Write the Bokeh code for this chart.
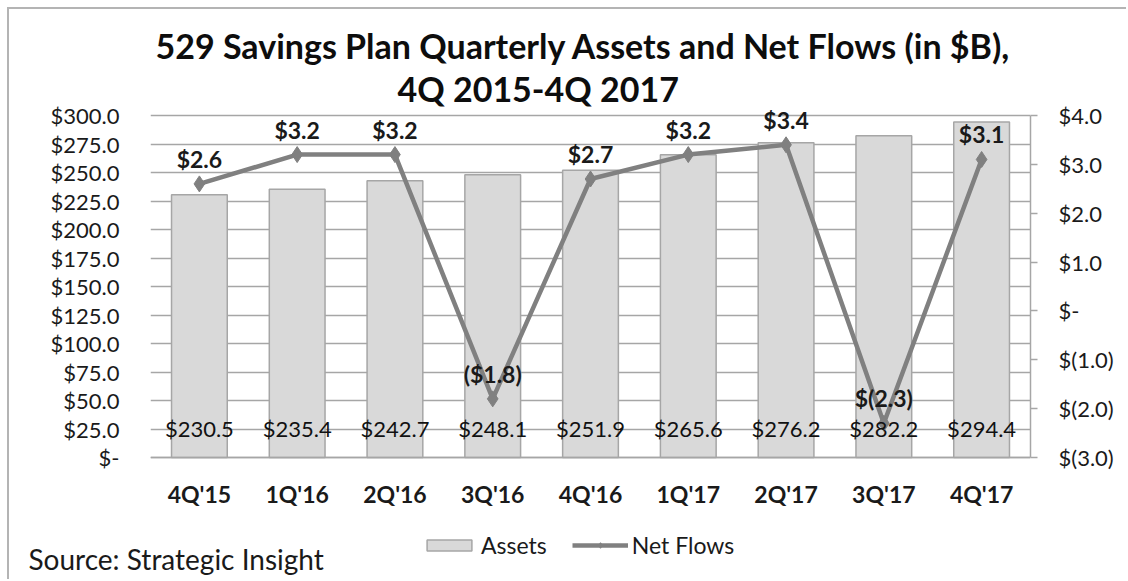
from bokeh.plotting import figure
from bokeh.models import (FactorRange, Range1d, LinearAxis, FixedTicker, Title,
                          Legend, LegendItem, ColumnDataSource)
from bokeh.embed import file_html
from bokeh.resources import INLINE
from bokeh.core.properties import value

# ---- data ----
quarters = ["4Q'15", "1Q'16", "2Q'16", "3Q'16", "4Q'16", "1Q'17", "2Q'17", "3Q'17", "4Q'17"]
assets = [230.5, 235.4, 242.7, 248.1, 251.9, 265.6, 276.2, 282.2, 294.4]
net_flows = [2.6, 3.2, 3.2, -1.8, 2.7, 3.2, 3.4, -2.3, 3.1]
asset_labels = ["$230.5", "$235.4", "$242.7", "$248.1", "$251.9", "$265.6", "$276.2", "$282.2", "$294.4"]
flow_labels = ["$2.6", "$3.2", "$3.2", "($1.8)", "$2.7", "$3.2", "$3.4", "$(2.3)", "$3.1"]
left_ticks = [0, 25, 50, 75, 100, 125, 150, 175, 200, 225, 250, 275, 300]
left_tick_labels = ["$-", "$25.0", "$50.0", "$75.0", "$100.0", "$125.0", "$150.0", "$175.0",
                    "$200.0", "$225.0", "$250.0", "$275.0", "$300.0"]
right_ticks = [-3, -2, -1, 0, 1, 2, 3, 4]
right_tick_labels = ["$(3.0)", "$(2.0)", "$(1.0)", "$-", "$1.0", "$2.0", "$3.0", "$4.0"]
title_line1 = "529 Savings Plan Quarterly Assets and Net Flows (in $B),"
title_line2 = "4Q 2015-4Q 2017"
source_text = "Source: Strategic Insight"

FONT = "Lato"
TXT = "#1a1a1a"
GRID = "#a6a6a6"

# ---- layout geometry (page pixels) ----
CANVAS_X0, CANVAS_Y0 = 9, 9
W, H = 1128 - CANVAS_X0, 581 - CANVAS_Y0
FRAME_L, FRAME_R = 150, 1030
FRAME_T, FRAME_B = 108, 559
AX_TOP, AX_ZERO = 115, 457          # where the value axes start / end
left_lo, left_hi = 0.0, 300.0
right_lo, right_hi = -3.0, 4.0
lpx = (AX_ZERO - AX_TOP) / (left_hi - left_lo)
rpx = (AX_ZERO - AX_TOP) / (right_hi - right_lo)
left_range = (left_lo - (FRAME_B - AX_ZERO) / lpx, left_hi + (AX_TOP - FRAME_T) / lpx)
right_range = (right_lo - (FRAME_B - AX_ZERO) / rpx, right_hi + (AX_TOP - FRAME_T) / rpx)

src = ColumnDataSource(dict(q=quarters, assets=assets, flows=net_flows,
                            alab=asset_labels, flab=flow_labels,
                            base=[0 for _ in assets]))

p = figure(width=W, height=H, x_range=FactorRange(*quarters, range_padding=0),
           y_range=Range1d(*left_range), output_backend="svg", toolbar_location=None,
           min_border_left=FRAME_L - CANVAS_X0, min_border_right=CANVAS_X0 + W - FRAME_R,
           min_border_top=FRAME_T - CANVAS_Y0, min_border_bottom=CANVAS_Y0 + H - FRAME_B)
p.styles = {"margin-top": "7px", "margin-left": "7px",
            "border-top": "2px solid #b4b4b4", "border-left": "2px solid #b4b4b4"}
p.outline_line_color = None
p.background_fill_color = "white"
p.border_fill_color = "white"
p.extra_y_ranges = {"flows": Range1d(*right_range)}

# grid
p.xgrid.grid_line_color = None
p.ygrid.ticker = FixedTicker(ticks=left_ticks)
p.ygrid.grid_line_color = GRID
p.ygrid.grid_line_width = 1.5

# left axis
la = p.yaxis[0]
la.ticker = FixedTicker(ticks=left_ticks)
la.bounds = (left_lo, left_hi)
la.major_label_overrides = {t: l for t, l in zip(left_ticks, left_tick_labels)}
la.axis_line_color = None
la.major_tick_line_color = None
la.minor_tick_line_color = None
la.major_tick_out = 0
la.major_label_standoff = 31
la.major_label_text_font = FONT
la.major_label_text_font_size = "22px"
la.major_label_text_color = TXT

# bottom (category) axis sits on the zero line of the assets axis
xa = p.xaxis[0]
xa.fixed_location = 0
xa.axis_line_color = GRID
xa.axis_line_width = 1.5
xa.major_tick_line_color = None
xa.major_tick_out = 0
xa.major_label_standoff = 22
xa.major_label_text_font = FONT
xa.major_label_text_font_style = "bold"
xa.major_label_text_font_size = "23px"
xa.major_label_text_color = TXT

# right axis
ra = LinearAxis(y_range_name="flows", ticker=FixedTicker(ticks=right_ticks),
                bounds=(right_lo, right_hi))
ra.major_label_overrides = {t: l for t, l in zip(right_ticks, right_tick_labels)}
ra.axis_line_color = GRID
ra.axis_line_width = 1.5
ra.major_tick_line_color = GRID
ra.major_tick_line_width = 1.5
ra.major_tick_in = 0
ra.major_tick_out = 7
ra.minor_tick_line_color = None
ra.major_label_standoff = 21
ra.major_label_text_font = FONT
ra.major_label_text_font_size = "22px"
ra.major_label_text_color = TXT
p.add_layout(ra, "right")

# bars
bars = p.vbar(x="q", top="assets", width=0.57, source=src,
              fill_color="#d9d9d9", line_color=GRID, line_width=1.5)

# line
ln = p.line(x="q", y="flows", source=src, y_range_name="flows",
            line_color="#808080", line_width=4.5)
mk = p.scatter(x="q", y="flows", source=src, y_range_name="flows", marker="diamond",
               size=16, fill_color="#808080", line_color="#808080")

# data labels
p.text(x="q", y="base", text="alab", source=src, text_align="center", text_baseline="middle",
       y_offset=-29, text_font=value(FONT), text_font_size="22px", text_color="#111111")
p.text(x="q", y="flows", text="flab", source=src, y_range_name="flows",
       text_align="center", text_baseline="middle", y_offset=-25,
       text_font=value(FONT), text_font_size="23px", text_font_style="bold", text_color=TXT)

# titles (first added sits closest to the frame)
p.add_layout(Title(text=title_line2, align="left", offset=397 - FRAME_L, standoff=0,
                   text_font=FONT, text_font_size="34px", text_font_style="bold",
                   text_color="#0d0d0d"), "above")
p.add_layout(Title(text=title_line1, align="left", offset=155 - FRAME_L, standoff=0,
                   text_font=FONT, text_font_size="34px", text_font_style="bold",
                   text_color="#0d0d0d"), "above")

legend = Legend(items=[LegendItem(label="Assets", renderers=[bars]),
                       LegendItem(label="Net Flows", renderers=[ln, mk])],
                location=(421 - FRAME_L, 0), orientation="horizontal",
                glyph_width=56, glyph_height=14, label_standoff=4, spacing=25,
                padding=0, margin=0, border_line_color=None, background_fill_alpha=0,
                label_text_font=FONT, label_text_font_size="23px", label_text_color=TXT)
p.add_layout(legend, "center")

p.add_layout(Title(text=source_text, align="left", vertical_align="top",
                   offset=28 - FRAME_L, standoff=-36,
                   text_font=FONT, text_font_size="28px", text_font_style="normal",
                   text_color=TXT), "below")

open("out.html", "w").write(file_html(p, INLINE))
